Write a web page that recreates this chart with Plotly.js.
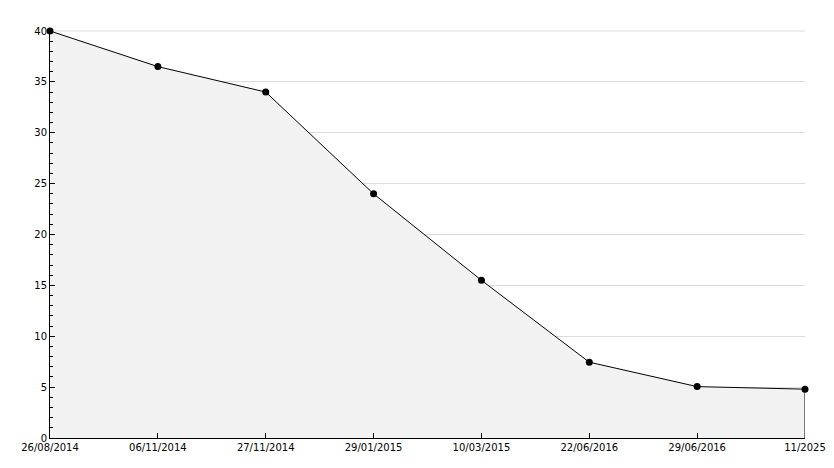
<!DOCTYPE html>
<html>
<head>
<meta charset="utf-8">
<script src="https://cdn.plot.ly/plotly-3.0.1.min.js"></script>
<style>html,body{margin:0;padding:0;background:#fff;}#chart{width:834px;height:468px;}</style>
</head>
<body>
<div id="chart"></div>
<script>
const dates = ["26/08/2014","06/11/2014","27/11/2014","29/01/2015","10/03/2015","22/06/2016","29/06/2016","11/2025"];
const values = [40, 36.5, 34, 24, 15.5, 7.45, 5.05, 4.8];

const last = dates.length - 1;
const traces = [
  {
    x: dates, y: values, type: 'scatter', mode: 'lines+markers',
    fill: 'tozeroy', fillcolor: '#f2f2f2',
    line: {color: '#000', width: 1},
    marker: {color: '#000', size: 7, symbol: 'circle'},
    hoverinfo: 'skip', cliponaxis: false
  },
  {
    x: [dates[last], dates[last]], y: [0, values[last]], type: 'scatter', mode: 'lines',
    line: {color: '#000', width: 1}, hoverinfo: 'skip', cliponaxis: false
  }
];

const font = {family: 'DejaVu Sans, sans-serif', size: 10, color: '#000'};
const layout = {
  width: 834, height: 468,
  margin: {l: 50, r: 29, t: 31, b: 30, pad: 0},
  paper_bgcolor: '#fff', plot_bgcolor: '#fff',
  showlegend: false,
  font: font,
  shapes: [{
    type: 'line', xref: 'paper', yref: 'paper', x0: 0, x1: 1, y0: 1, y1: 1,
    line: {color: '#dcdcdc', width: 1}, layer: 'below'
  }],
  xaxis: {
    type: 'category', range: [0, last],
    categoryorder: 'array', categoryarray: dates,
    showgrid: false, zeroline: false,
    showline: true, linecolor: '#000', linewidth: 1,
    ticks: 'inside', ticklen: 5, tickcolor: '#000',
    tickfont: font, fixedrange: true
  },
  yaxis: {
    range: [0, 40], dtick: 5, tick0: 0,
    showgrid: true, gridcolor: '#dcdcdc', gridwidth: 1,
    zeroline: false,
    showline: true, linecolor: '#000', linewidth: 1,
    ticks: 'inside', ticklen: 5, tickcolor: '#000',
    minor: {dtick: 1, ticks: 'inside', ticklen: 3, tickcolor: '#000', showgrid: false},
    tickfont: font, fixedrange: true
  }
};
Plotly.newPlot('chart', traces, layout, {displayModeBar: false, staticPlot: true});
</script>
</body>
</html>
